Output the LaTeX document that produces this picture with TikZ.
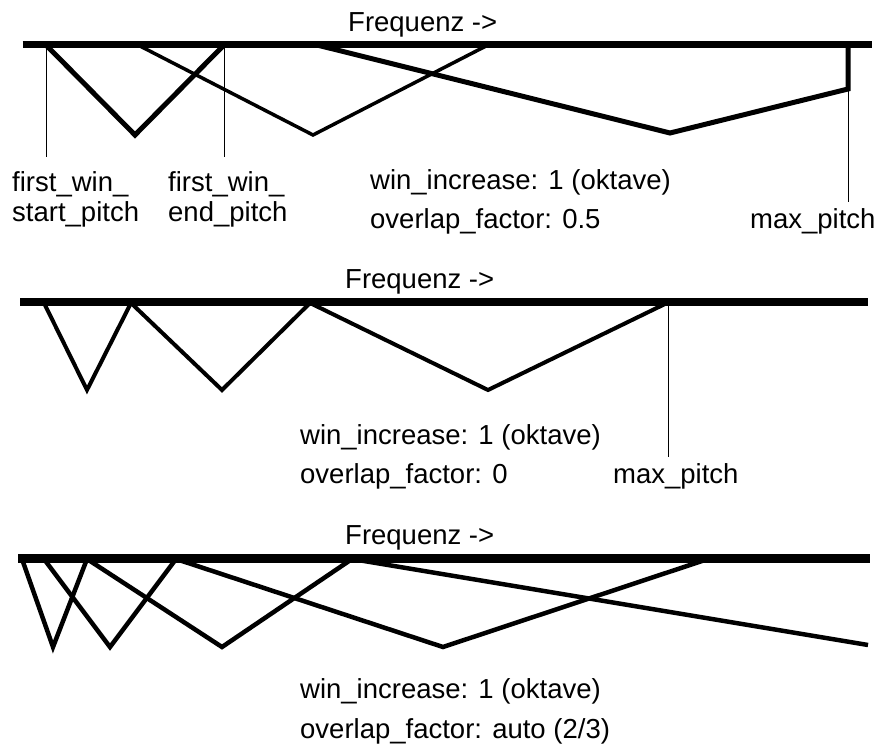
\documentclass[tikz,border=0pt]{standalone}
\usepackage{fontspec}
\setmainfont{Liberation Sans}
\begin{document}
\begin{tikzpicture}[x=1pt,y=-1pt,
  lbl/.style={inner sep=0pt, anchor=base west, font=\fontsize{27.5}{30}\selectfont},
  axis/.style={line width=7.5pt},
  win/.style={line width=4.5pt, line join=miter},
  marker/.style={line width=1pt}]
\useasboundingbox (0,0) rectangle (880,751);

% ---------- panel 1: overlap 0.5 ----------
\coordinate (p1L) at (22.7,44.7);
\coordinate (p1R) at (872,44.7);
\coordinate (p1s) at (46,45);
\coordinate (p1e) at (224,45);
\coordinate (p1sB) at (46,157);
\coordinate (p1eB) at (224,157);
\coordinate (p1a1) at (135,135);
\coordinate (p1b0) at (138,45);
\coordinate (p1b1) at (313,135);
\coordinate (p1b2) at (488,45);
\coordinate (p1c0) at (317,45);
\coordinate (p1c1) at (670,133);
\coordinate (p1c2) at (848,89);
\coordinate (p1c3) at (848,45);
\coordinate (p1mB) at (848,202);

\draw[marker] (p1s) -- (p1sB);
\draw[marker] (p1e) -- (p1eB);
\draw[marker] (p1c2) -- (p1mB);
\draw[win, line width=5pt] (p1s) -- (p1a1) -- (p1e);
\draw[win, line width=3.5pt] (p1b0) -- (p1b1) -- (p1b2);
\draw[win, line width=5pt] (p1c0) -- (p1c1) -- (p1c2) -- (p1c3);
\draw[axis] (p1L) -- (p1R);

\node[lbl] (fq1) at (348,31.7) {Frequenz ->};
\node[lbl] (fws1) at (12,192) {first\_win\_};
\node[lbl] (fws2) at (12,222) {start\_pitch};
\node[lbl] (fwe1) at (168,192) {first\_win\_};
\node[lbl] (fwe2) at (168,222) {end\_pitch};
\node[lbl] (wi1) at (370,190) {win\_increase: 1 (oktave)};
\node[lbl] (of1) at (370,229) {overlap\_factor: 0.5};
\node[lbl] (mp1) at (750,229) {max\_pitch};

% ---------- panel 2: overlap 0 ----------
\coordinate (p2L) at (20,302);
\coordinate (p2R) at (868,302);
\coordinate (p2a0) at (44,303);
\coordinate (p2a1) at (87,390);
\coordinate (p2a2) at (131,303);
\coordinate (p2b1) at (222,390);
\coordinate (p2b2) at (310,303);
\coordinate (p2c1) at (488,390);
\coordinate (p2c2) at (667,303);
\coordinate (p2m) at (668,302);
\coordinate (p2mB) at (668,457);

\draw[marker] (p2m) -- (p2mB);
\draw[win, line width=4pt] (p2a0) -- (p2a1) -- (p2a2) -- (p2b1) -- (p2b2) -- (p2c1) -- (p2c2);
\draw[axis] (p2L) -- (p2R);

\node[lbl] (fq2) at (345,288) {Frequenz ->};
\node[lbl] (wi2) at (300,444) {win\_increase: 1 (oktave)};
\node[lbl] (of2) at (300,483) {overlap\_factor: 0};
\node[lbl] (mp2) at (613,483) {max\_pitch};

% ---------- panel 3: overlap auto ----------
\coordinate (p3L) at (18,558);
\coordinate (p3R) at (870,558);
\coordinate (p3a0) at (22,559);
\coordinate (p3a1) at (53,647);
\coordinate (p3a2) at (87,559);
\coordinate (p3b0) at (44,559);
\coordinate (p3b1) at (110,647);
\coordinate (p3b2) at (176,559);
\coordinate (p3c1) at (222,647);
\coordinate (p3c2) at (352,559);
\coordinate (p3d1) at (443,647);
\coordinate (p3d2) at (708,559);
\coordinate (p3e1) at (868,645);

\draw[win, line width=4.5pt] (p3a0) -- (p3a1) -- (p3a2);
\draw[win, line width=4.5pt] (p3b0) -- (p3b1) -- (p3b2);
\draw[win, line width=4.5pt] (p3a2) -- (p3c1) -- (p3c2);
\draw[win, line width=4.5pt] (p3b2) -- (p3d1) -- (p3d2);
\draw[win, line width=4.5pt] (p3c2) -- (p3e1);
\draw[axis, line width=9pt] (p3L) -- (p3R);

\node[lbl] (fq3) at (345,544) {Frequenz ->};
\node[lbl] (wi3) at (300,698) {win\_increase: 1 (oktave)};
\node[lbl] (of3) at (300,738) {overlap\_factor: auto (2/3)};
\end{tikzpicture}
\end{document}
